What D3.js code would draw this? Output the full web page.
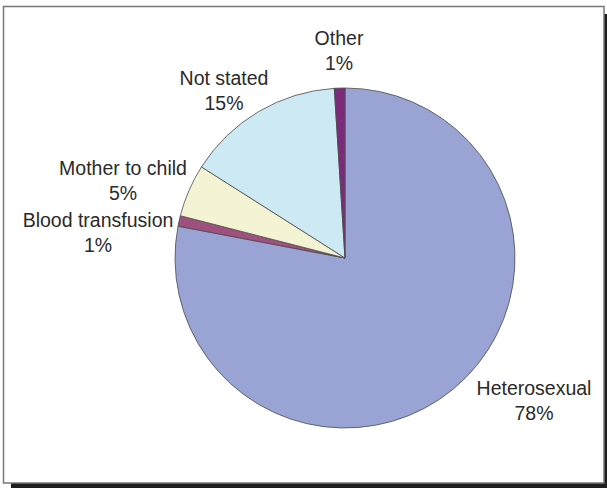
<!DOCTYPE html>
<html>
<head>
<meta charset="utf-8">
<script src="https://cdn.jsdelivr.net/npm/d3@7"></script>
<style>
  html, body { margin: 0; padding: 0; background: #fff; }
  svg { display: block; }
</style>
</head>
<body>
<svg id="chart" width="607" height="488"></svg>
<script>
const categories = ["Heterosexual", "Blood transfusion", "Mother to child", "Not stated", "Other"];
const values = [78, 1, 5, 15, 1];
const percentLabels = ["78%", "1%", "5%", "15%", "1%"];
const colors = ["#99A4D4", "#A0507E", "#F4F4D4", "#CCE9F4", "#7C2B7B"];
// label anchor positions (centre of first line baseline)
const labelPos = [[534, 395], [98, 227], [123, 175], [224, 85], [339, 45]];

const svg = d3.select("#chart");

// shadow + frame
svg.append("rect").attr("x", 11).attr("y", 14).attr("width", 610).attr("height", 480).attr("fill", "#1e1e1e");
svg.append("rect").attr("x", 3.5).attr("y", 6.5).attr("width", 600.5).attr("height", 476.5)
  .attr("fill", "#fff").attr("stroke", "#777").attr("stroke-width", 1.5);

const cx = 345, cy = 258, r = 170;
const pie = d3.pie().sort(null).value(d => d)(values);
const arc = d3.arc().innerRadius(0).outerRadius(r);

const g = svg.append("g").attr("transform", `translate(${cx},${cy})`);
g.selectAll("path").data(pie).join("path")
  .attr("d", arc)
  .attr("fill", (d, i) => colors[i])
  .attr("stroke", "#4a4a4a")
  .attr("stroke-width", 0.8)
  .attr("stroke-linejoin", "round");

const labels = svg.append("g")
  .attr("font-family", "'Liberation Sans', Arial, sans-serif")
  .attr("font-size", 19.5)
  .attr("fill", "#2a2a2a")
  .attr("text-anchor", "middle");

categories.forEach((c, i) => {
  const [x, y] = labelPos[i];
  const t = labels.append("text").attr("x", x).attr("y", y);
  t.append("tspan").attr("x", x).attr("y", y).text(c);
  t.append("tspan").attr("x", x).attr("y", y + 25).text(percentLabels[i]);
});
</script>
</body>
</html>
